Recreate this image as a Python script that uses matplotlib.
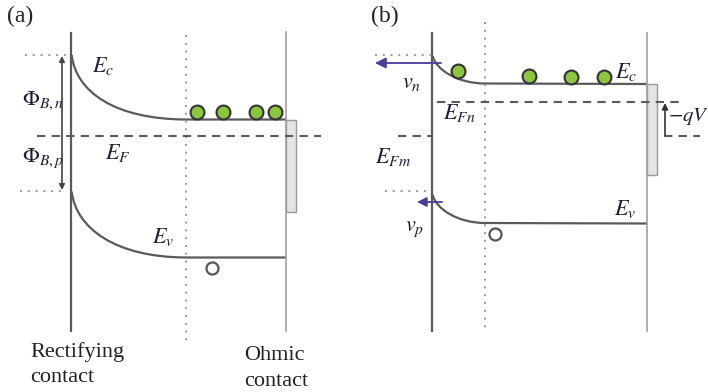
import numpy as np
import matplotlib.pyplot as plt
from matplotlib.patches import Rectangle, PathPatch
from matplotlib.path import Path

plt.rcParams['mathtext.fontset'] = 'stix'

# --- panel (a): rectifying contact at equilibrium (pixel coords) ---
# band edges: start at the wall, two bend (control) points, end of bending, flat end
ec_a = [(71.7, 55), (76, 92), (115, 119.5), (187, 119.5), (286, 119.5)]
ev_a = [(71.7, 191.7), (76, 228), (115, 257.5), (187, 257.5), (286, 257.5)]
elec_a_x = [197, 223, 256, 275]
elec_a_y = [112, 112, 112, 112]
hole_a = (212, 268)

# --- panel (b): forward bias ---
ec_b = [(432.7, 56), (436, 70), (458, 83.5), (485, 83.5), (647, 84)]
ev_b = [(432.7, 195), (436, 209), (458, 223), (485, 223), (647, 223.5)]
elec_b_x = [458, 529, 571, 604]
elec_b_y = [71, 76, 77, 77]
hole_b = (495, 234)

line_c = '#5a5a5a'
light_c = '#a0a0a0'
dot_c = '#9a9a9a'
text_c = '#1e1e3a'
arrow_c = '#4a3d96'
green = '#8cc63e'

fig = plt.figure(figsize=(7.08, 3.92), dpi=100)
ax = fig.add_axes([0, 0, 1, 1])
ax.set_xlim(0, 708)
ax.set_ylim(392, 0)
ax.axis('off')


def band(pts):
    codes = [Path.MOVETO, Path.CURVE4, Path.CURVE4, Path.CURVE4, Path.LINETO]
    ax.add_patch(PathPatch(Path(pts, codes), fill=False, edgecolor=line_c, lw=1.6))


# ---------- (a) ----------
ax.plot([71, 71], [33, 331], color=line_c, lw=1.6)
ax.plot([286, 286], [32, 331], color=light_c, lw=1.2)
ax.plot([186, 186], [35, 343], color=dot_c, lw=1.4, ls=(0, (1, 3)))
band(ec_a)
band(ev_a)
ax.add_patch(Rectangle((286, 119.5), 10, 92, facecolor='#e4e4e4', edgecolor='#999999', lw=1))
ax.plot([37, 321], [136, 136], color=line_c, lw=1.5, ls=(0, (4, 3)))
ax.plot([25, 66], [55, 55], color=dot_c, lw=1.4, ls=(0, (1, 3)))
ax.plot([20, 66], [191, 191], color=dot_c, lw=1.4, ls=(0, (1, 3)))
ax.annotate('', xy=(62, 56), xytext=(62, 190),
            arrowprops=dict(arrowstyle='<|-|>', color='#444444', lw=1.2,
                            mutation_scale=8, shrinkA=0, shrinkB=0))
ax.scatter(elec_a_x, elec_a_y, s=100, facecolor=green, edgecolor='#333333', lw=1.5, zorder=5)
ax.scatter([hole_a[0]], [hole_a[1]], s=75, facecolor='white', edgecolor='#555555', lw=1.6, zorder=5)

ax.text(7, 16, '(a)', fontsize=17, family='Liberation Serif', va='center', color='#222222')
ax.text(92, 72, r'$E_c$', fontsize=16, color=text_c)
ax.text(105, 159, r'$E_F$', fontsize=16, color=text_c)
ax.text(22, 105, r'$\Phi_{B,n}$', fontsize=16, color=text_c)
ax.text(22, 162, r'$\Phi_{B,p}$', fontsize=16, color=text_c)
ax.text(152, 243, r'$E_v$', fontsize=16, color=text_c)
ax.text(30, 357, 'Rectifying', fontsize=16, family='Liberation Serif', color='#222222')
ax.text(30, 382, 'contact', fontsize=16, family='Liberation Serif', color='#222222')
ax.text(244, 360, 'Ohmic', fontsize=16, family='Liberation Serif', color='#222222')
ax.text(244, 386, 'contact', fontsize=16, family='Liberation Serif', color='#222222')

# ---------- (b) ----------
ax.plot([432, 432], [33, 331], color=line_c, lw=1.6)
ax.plot([647, 647], [33, 331], color=light_c, lw=1.2)
ax.plot([485, 485], [22, 328], color=dot_c, lw=1.4, ls=(0, (1, 3)))
band(ec_b)
band(ev_b)
ax.add_patch(Rectangle((647, 84), 10, 91, facecolor='#e4e4e4', edgecolor='#999999', lw=1))
ax.plot([437, 681], [102, 102], color=line_c, lw=1.5, ls=(0, (4, 3)))
ax.plot([398, 432], [136, 136], color=line_c, lw=1.5, ls=(0, (4, 3)))
ax.plot([664, 700], [136, 136], color=line_c, lw=1.5, ls=(0, (4, 3)))
ax.annotate('', xy=(665, 103), xytext=(665, 135),
            arrowprops=dict(arrowstyle='-|>', color='#333333', lw=1.2,
                            mutation_scale=9, shrinkA=0, shrinkB=0))
ax.plot([375, 432], [55, 55], color=dot_c, lw=1.4, ls=(0, (1, 3)))
ax.plot([385, 430], [191, 191], color=dot_c, lw=1.4, ls=(0, (1, 3)))
ax.annotate('', xy=(375, 63), xytext=(441, 63),
            arrowprops=dict(arrowstyle='-|>', color=arrow_c, lw=1.3,
                            mutation_scale=16, shrinkA=0, shrinkB=0))
ax.annotate('', xy=(417, 202), xytext=(442, 202),
            arrowprops=dict(arrowstyle='-|>', color=arrow_c, lw=1.3,
                            mutation_scale=14, shrinkA=0, shrinkB=0))
ax.scatter(elec_b_x, elec_b_y, s=100, facecolor=green, edgecolor='#333333', lw=1.5, zorder=5)
ax.scatter([hole_b[0]], [hole_b[1]], s=75, facecolor='white', edgecolor='#555555', lw=1.6, zorder=5)

ax.text(371, 16, '(b)', fontsize=17, family='Liberation Serif', va='center', color='#222222')
ax.text(402, 88, r'$v_n$', fontsize=16, color=text_c)
ax.text(443, 119, r'$E_{Fn}$', fontsize=16, color=text_c)
ax.text(375, 163, r'$E_{Fm}$', fontsize=16, color=text_c)
ax.text(615, 78, r'$E_c$', fontsize=16, color=text_c)
ax.text(614, 215, r'$E_v$', fontsize=16, color=text_c)
ax.text(405, 231, r'$v_p$', fontsize=16, color=text_c)
ax.text(668, 121, r'$-qV$', fontsize=15, color=text_c)

fig.savefig('out.png', dpi=100)
